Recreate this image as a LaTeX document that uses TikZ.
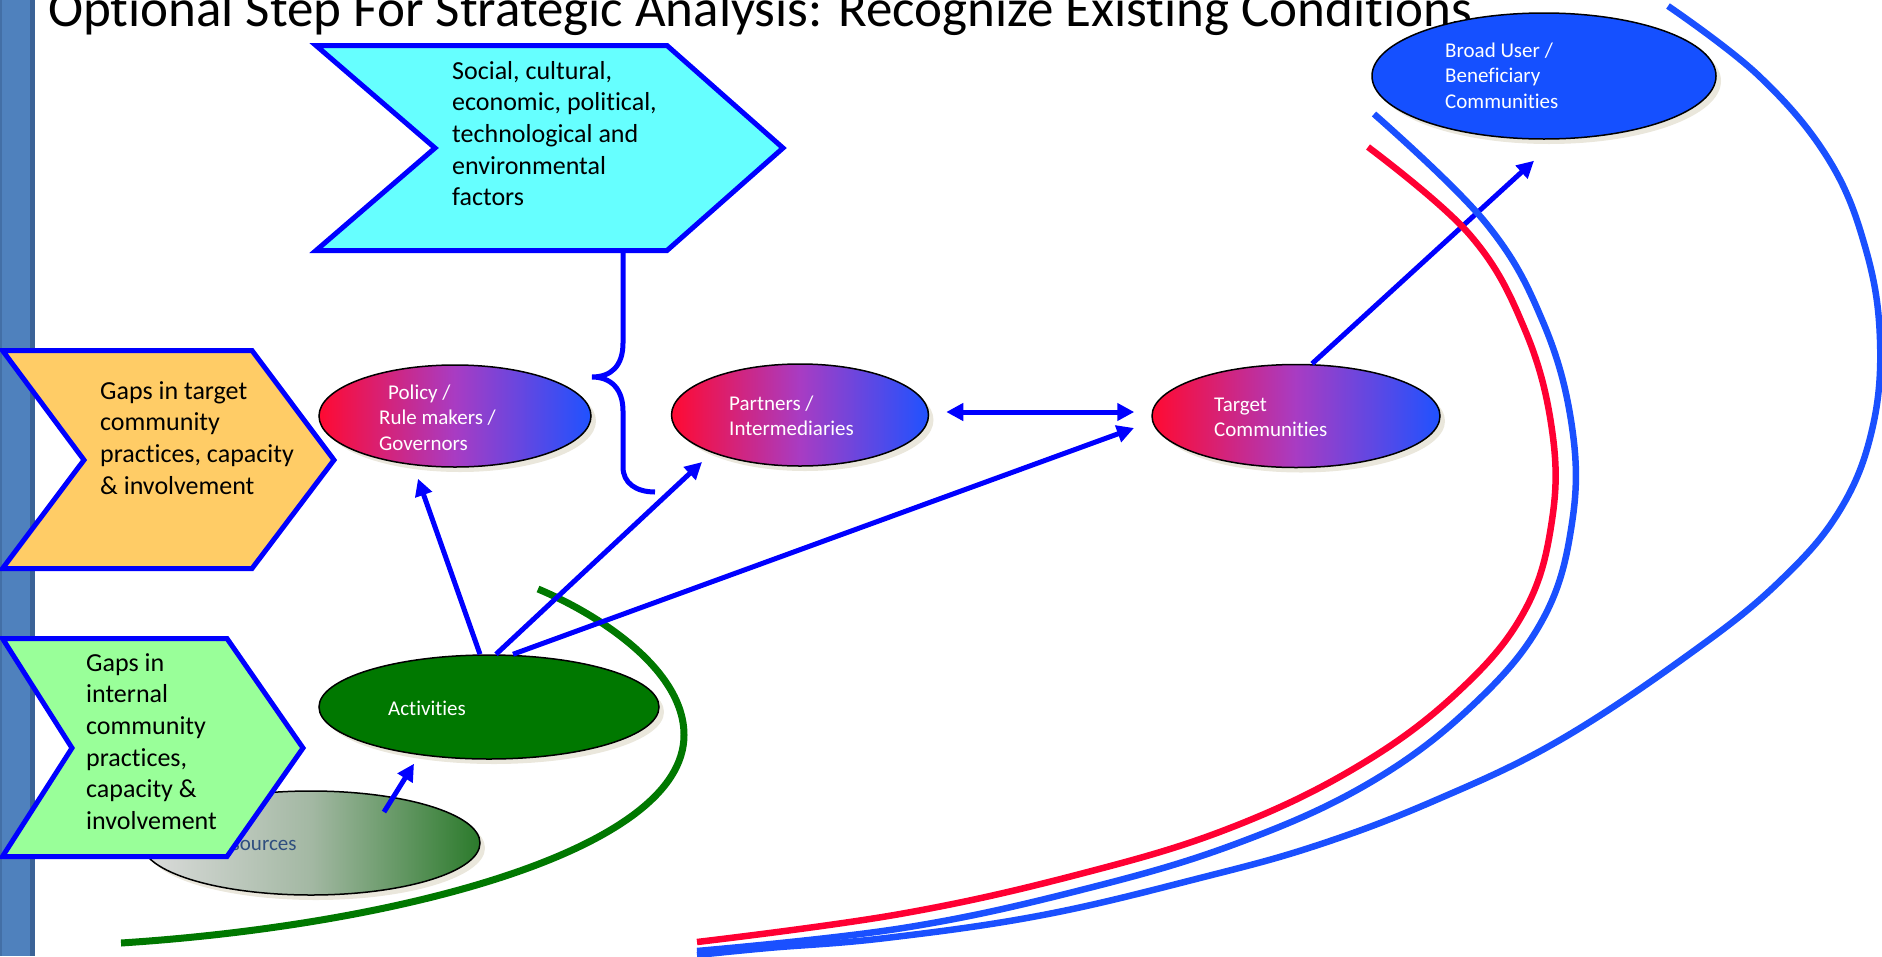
\documentclass[tikz,border=0pt]{standalone}
\usepackage{fontspec}
\setmainfont{Carlito}[Ligatures=NoCommon]
\usetikzlibrary{arrows.meta,shadows,shapes.geometric}

\definecolor{barblue}{HTML}{4F81BD}
\definecolor{bardark}{HTML}{3B6397}
\definecolor{linkblue}{HTML}{0000FF}
\definecolor{cyanfill}{HTML}{66FFFF}
\definecolor{orangefill}{HTML}{FFCC66}
\definecolor{greenfill}{HTML}{99FF99}
\definecolor{shadowcol}{HTML}{EAE7DC}
\definecolor{gradred}{HTML}{FF0A32}
\definecolor{gradmid}{HTML}{A83CC3}
\definecolor{gradblue}{HTML}{1F52FF}
\definecolor{actgreen}{HTML}{007800}
\definecolor{resgrey}{HTML}{DCDCDC}
\definecolor{resmid}{HTML}{A3B8A3}
\definecolor{resgreen}{HTML}{2B7A2B}
\definecolor{restext}{HTML}{2F4F7F}
\definecolor{broadblue}{HTML}{1550FF}
\definecolor{curvered}{HTML}{FF0033}
\definecolor{curveblue}{HTML}{1A50FF}
\definecolor{curvegreen}{HTML}{007800}

% left-aligned block whose reference point is the first baseline
\newcommand\txtlines[1]{\begin{tabular}[t]{@{}l@{}}#1\end{tabular}}

\begin{document}
\begin{tikzpicture}[x=1pt,y=-1pt,
  chevron/.style={draw=linkblue, line width=5pt, line join=miter},
  chevtext/.style={anchor=base west, inner sep=0pt, font=\fontsize{26}{31.7}\selectfont},
  ovaltext/.style={anchor=base west, inner sep=0pt, text=white, font=\fontsize{21}{25.8}\selectfont},
  oval/.style={ellipse, draw=black, line width=1.5pt, inner sep=0pt,
    drop shadow={shadow xshift=5pt, shadow yshift=-5pt, fill=shadowcol, opacity=1}},
  gradoval/.style={oval, left color=gradred, right color=gradblue, middle color=gradmid},
  link/.style={draw=linkblue, line width=5pt, -{Triangle[length=17pt,width=17pt]}},
  biglink/.style={draw=linkblue, line width=5pt, {Triangle[length=17pt,width=17pt]}-{Triangle[length=17pt,width=17pt]}},
  sweep/.style={line width=6.5pt, line cap=butt}]

\useasboundingbox (0,0) rectangle (1882,956);

% side bar
\fill[barblue] (0,0) rectangle (35,956);
\fill[bardark] (30,0) rectangle (35,956);
\fill[bardark!60!barblue] (0,0) rectangle (2,956);

% heading
\node[anchor=base west, inner sep=0pt, font=\fontsize{53}{60}\selectfont] (title) at (48,26)
  {Optional Step For Strategic Analysis: Recognize Existing Conditions};

% chevron banners
\filldraw[chevron, fill=cyanfill] (316,45.5) -- (667,45.5) -- (783,148) -- (667,250.5) -- (316,250.5) -- (435,148) -- cycle;
\coordinate (bracetop) at (623,252);
\node[chevtext] (factors) at (452,79) {\txtlines{Social, cultural,\\economic, political,\\technological and\\environmental\\factors}};

\filldraw[chevron, fill=orangefill] (2.5,350.5) -- (252,350.5) -- (334,460) -- (252,568.5) -- (2.5,568.5) -- (84,460) -- cycle;
\node[chevtext] (gapstarget) at (100,399) {\txtlines{Gaps in target\\community\\practices, capacity\\\& involvement}};

% resources sits behind the green banner
\node[oval, left color=resgrey, right color=resgreen, middle color=resmid,
  minimum width=338pt, minimum height=104pt] (res) at (311,843) {};
\node[anchor=base west, inner sep=0pt, text=restext, font=\fontsize{21}{25.8}\selectfont] (restxt) at (210,850) {Resources};

\filldraw[chevron, fill=greenfill] (2.5,638.5) -- (227,638.5) -- (303,748) -- (227,856.5) -- (2.5,856.5) -- (72,748) -- cycle;
\node[chevtext] (gapsinternal) at (86,671) {\txtlines{Gaps in\\internal\\community\\practices,\\capacity \&\\involvement}};

% ovals
\node[oval, fill=actgreen, minimum width=340pt, minimum height=104pt] (act) at (489,707) {};
\node[ovaltext] (acttxt) at (388,715) {Activities};

\node[gradoval, minimum width=272pt, minimum height=102pt] (pol) at (455,416) {};
\node[ovaltext] (poltxt) at (379,399) {\txtlines{\hspace{9pt}Policy /\\Rule makers /\\Governors}};

\node[gradoval, minimum width=257pt, minimum height=102pt] (par) at (800,415) {};
\node[ovaltext] (partxt) at (729,410) {\txtlines{Partners /\\Intermediaries}};

\node[gradoval, minimum width=288pt, minimum height=103pt] (tgt) at (1296,416) {};
\node[ovaltext] (tgttxt) at (1214,411) {\txtlines{Target\\Communities}};

\node[oval, fill=broadblue, minimum width=344pt, minimum height=126pt] (brd) at (1544,76) {};
\node[ovaltext] (brdtxt) at (1445,57) {\txtlines{Broad User /\\Beneficiary\\Communities}};

% green sweep round the internal side
\draw[sweep, curvegreen, line width=7pt] (538,589)
  .. controls (600,615) and (684,670) .. (684,735)
  .. controls (684,850) and (400,925) .. (121,943);

% brace hanging from the external factors
\draw[linkblue, line width=5pt] (bracetop) -- (623,343)
  .. controls (623,366) and (611,377) .. (592,377)
  .. controls (611,377) and (623,389) .. (623,411) -- (623,467)
  .. controls (623,483) and (636,492) .. (655,492);

% connectors
\draw[link] ([xshift=-9pt]act.north) -- ([xshift=-37pt,yshift=-11pt]pol.south);
\draw[link] ([xshift=7pt]act.north) -- ([xshift=-98pt,yshift=-47pt]par.center);
\draw[link] ([xshift=24pt]act.north) -- ([xshift=-162pt,yshift=-12pt]tgt.center);
\draw[link] ([xshift=73pt,yshift=31pt]res.center) -- ([xshift=-75pt,yshift=-4pt]act.south);
\draw[biglink] ([xshift=17pt,yshift=3pt]par.east) -- ([xshift=-17pt,yshift=4pt]tgt.west);
\draw[link] ([xshift=16pt]tgt.north) -- ([xshift=-10pt,yshift=-21pt]brd.south);

% sweeping arcs on the right
\draw[sweep, curvered] plot[smooth, tension=0.65] coordinates {
  (1368,147) (1470,235) (1525,330) (1552,430) (1552,520) (1525,610) (1460,690)
  (1360,765) (1230,828) (1080,874) (900,914) (697,942)};
\draw[sweep, curveblue] plot[smooth, tension=0.65] coordinates {
  (1374,114) (1485,222) (1543,322) (1572,427) (1572,523) (1543,619) (1474,704)
  (1371,782) (1238,843) (1085,889) (903,928) (697,951)};
\draw[sweep, curveblue] plot[smooth, tension=0.65] coordinates {
  (1668,6) (1759,76) (1829,160) (1866,250) (1880,340) (1872,430) (1840,510)
  (1781,580) (1695,650) (1560,740) (1436,800) (1318,845) (1200,878) (1043,915)
  (886,938) (768,948) (697,955)};

\end{tikzpicture}
\end{document}
